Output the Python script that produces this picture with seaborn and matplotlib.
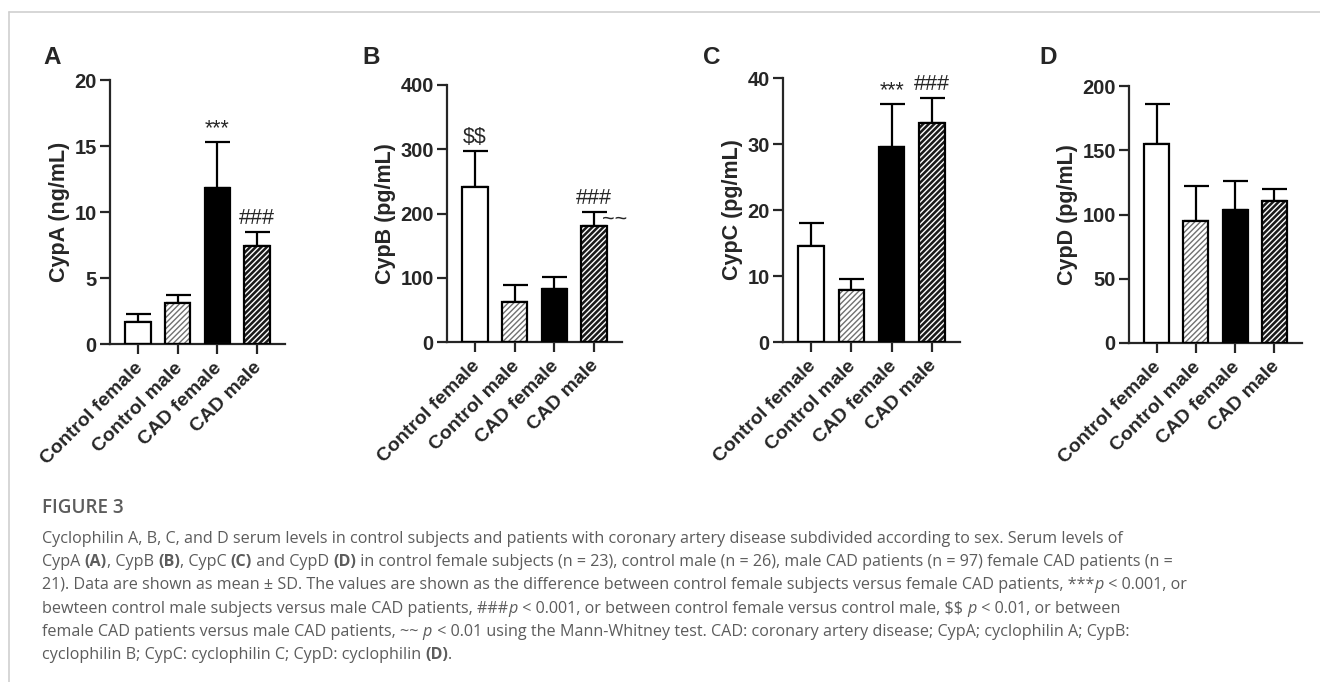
import numpy as np
import pandas as pd
import matplotlib
matplotlib.use("Agg")
import matplotlib.pyplot as plt
import matplotlib.transforms as mtransforms
import seaborn as sns
from matplotlib.patches import Rectangle
from matplotlib.lines import Line2D

groups = ["Control female", "Control male", "CAD female", "CAD male"]

cypA_mean = [1.65, 3.08, 11.85, 7.45]
cypA_sd = [0.62, 0.61, 3.48, 1.03]
cypB_mean = [241, 63, 82, 180]
cypB_sd = [56, 25, 19.5, 22]
cypC_mean = [14.6, 7.9, 29.6, 33.2]
cypC_sd = [3.4, 1.7, 6.4, 3.8]
cypD_mean = [154.7, 95.2, 103.7, 110.7]
cypD_sd = [31.1, 26.8, 22.3, 9.1]

ylabels = ["CypA (ng/mL)", "CypB (pg/mL)", "CypC (pg/mL)", "CypD (pg/mL)"]
letters = ["A", "B", "C", "D"]
ymax = [20, 400, 40, 200]
ystep = [5, 100, 10, 50]

marks_A = [(2, "***"), (3, "###")]
marks_B = [(0, "$$"), (3, "###")]
marks_C = [(2, "***"), (3, "###")]
marks_D = []

sns.set_style("ticks")
plt.rcParams["font.family"] = ["Liberation Sans", "DejaVu Sans"]
plt.rcParams["hatch.linewidth"] = 1.0

W, H = 1320, 682
fig = plt.figure(figsize=(13.2, 6.82), dpi=100)

# axes boxes in pixels: left, right, top, bottom
boxes = [(110, 285, 80, 344), (447, 622, 85, 342), (783, 960, 78, 342), (1129, 1302, 86, 343)]
letter_x = [43, 362, 703, 1039]

fills = ["white", "white", "black", "#1a1a1a"]
hatch_col = [None, "#707070", None, "white"]
hatches = [None, "//////", None, "//////"]

panels = [(cypA_mean, cypA_sd, marks_A), (cypB_mean, cypB_sd, marks_B),
          (cypC_mean, cypC_sd, marks_C), (cypD_mean, cypD_sd, marks_D)]

# nudge for the rotated category labels (pixels -> inches)
lab_shift = mtransforms.ScaledTranslation(2 / 100, -6 / 100, fig.dpi_scale_trans)

for k, (means, sds, marks) in enumerate(panels):
    l, r, t, b = boxes[k]
    ax = fig.add_axes([l / W, 1 - b / H, (r - l) / W, (b - t) / H])
    df = pd.DataFrame({"group": groups, "value": means})
    sns.barplot(data=df, x="group", y="value", hue="group", palette=fills,
                legend=False, width=0.64, errorbar=None, ax=ax,
                edgecolor="black", linewidth=0, zorder=2)
    for i, p in enumerate(ax.patches):
        if hatches[i]:
            p.set_edgecolor(hatch_col[i])
            p.set_hatch(hatches[i])
        ax.add_patch(Rectangle(p.get_xy(), p.get_width(), p.get_height(),
                               fill=False, ec="black", lw=1.6, zorder=3))
    ax.errorbar(range(len(groups)), means, yerr=[np.zeros(len(sds)), sds],
                fmt="none", ecolor="black", elinewidth=1.6, capsize=9,
                capthick=1.6, zorder=1)
    for i, s in marks:
        ax.annotate(s, xy=(i, means[i] + sds[i]), xytext=(0, 2),
                    textcoords="offset points", ha="center", va="bottom",
                    fontsize=15.5, parse_math=False)
    if k == 1:
        ax.annotate("~~", xy=(3, means[3] + sds[3]), xytext=(15, -5),
                    textcoords="offset points", ha="center", va="center",
                    fontsize=15.5)
    ax.set_xlim(-0.7, 3.7)
    ax.set_ylim(0, ymax[k])
    ax.set_yticks(np.arange(0, ymax[k] + 1, ystep[k]))
    sns.despine(ax=ax)
    for sp in ["left", "bottom"]:
        ax.spines[sp].set_linewidth(1.6)
    ax.tick_params(axis="both", width=1.6, length=7.5, labelsize=14.5)
    ax.tick_params(axis="y", pad=2)
    ax.set_xlabel("")
    ax.set_ylabel(ylabels[k], fontsize=15.5, fontweight="bold", labelpad=3)
    ax.set_xticks(range(len(groups)))
    ax.set_xticklabels(groups, rotation=45, ha="right", va="center",
                       rotation_mode="anchor", fontweight="bold", fontsize=14)
    for lab in ax.get_xticklabels():
        lab.set_transform(lab.get_transform() + lab_shift)
    for lab in ax.get_yticklabels():
        lab.set_fontweight("bold")
    ax.patch.set_alpha(0)
    fig.text(letter_x[k] / W, 1 - 64 / H, letters[k], fontsize=17.5,
             fontweight="bold", va="baseline")

# frame lines
fig.add_artist(Line2D([9 / W, 1], [1 - 12 / H, 1 - 12 / H], color="#cfcfcf", lw=1.2))
fig.add_artist(Line2D([9 / W, 9 / W], [0, 1 - 12 / H], color="#cfcfcf", lw=1.2))

# caption
cap_col = "#5c5c5c"
cap_font = ["Open Sans", "DejaVu Sans"]
cap_size = 11.65
fig.text(42 / W, 1 - 513 / H, "FIGURE 3", fontsize=13.6, color=cap_col,
         family=cap_font, fontweight="semibold", va="baseline")

caption = [
    [("Cyclophilin A, B, C, and D serum levels in control subjects and patients with coronary artery disease subdivided according to sex. Serum levels of", "n")],
    [("CypA ", "n"), ("(A)", "b"), (", CypB ", "n"), ("(B)", "b"), (", CypC ", "n"), ("(C)", "b"),
     (" and CypD ", "n"), ("(D)", "b"),
     (" in control female subjects (n = 23), control male (n = 26), male CAD patients (n = 97) female CAD patients (n =", "n")],
    [("21). Data are shown as mean \u00b1 SD. The values are shown as the difference between control female subjects versus female CAD patients, ***", "n"),
     ("p", "i"), (" < 0.001, or", "n")],
    [("bewteen control male subjects versus male CAD patients, ###", "n"), ("p", "i"),
     (" < 0.001, or between control female versus control male, $$ ", "n"), ("p", "i"), (" < 0.01, or between", "n")],
    [("female CAD patients versus male CAD patients, ~~ ", "n"), ("p", "i"),
     (" < 0.01 using the Mann-Whitney test. CAD: coronary artery disease; CypA; cyclophilin A; CypB:", "n")],
    [("cyclophilin B; CypC: cyclophilin C; CypD: cyclophilin ", "n"), ("(D)", "b"), (".", "n")],
]

renderer = fig.canvas.get_renderer()
for j, line in enumerate(caption):
    x = 42
    y = 543 + 23.2 * j
    for s, st in line:
        tx = fig.text(x / W, 1 - y / H, s, fontsize=cap_size, color=cap_col,
                      family=cap_font, va="baseline", parse_math=False,
                      fontweight="bold" if st == "b" else "normal",
                      fontstyle="italic" if st == "i" else "normal")
        x = tx.get_window_extent(renderer).x1 + (0.5 if st == "i" else 0)

fig.savefig("out.png", dpi=100)
